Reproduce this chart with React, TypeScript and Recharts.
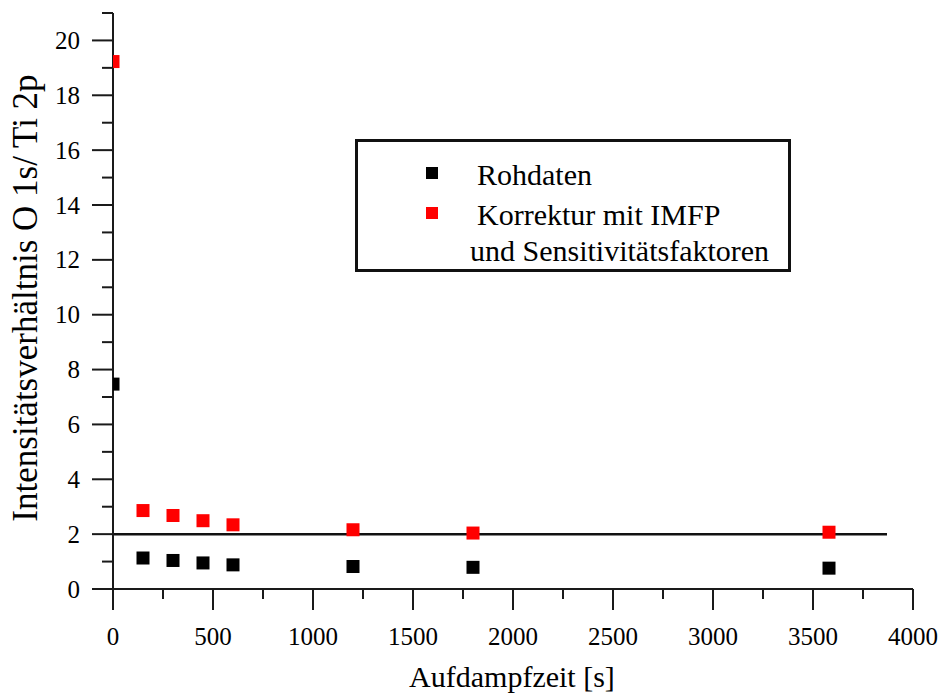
import React from 'react';
import { ScatterChart, Scatter, XAxis, YAxis, ReferenceLine, Legend } from 'recharts';

const times = [0, 150, 300, 450, 600, 1200, 1800, 3580];
const rohdaten = [7.47, 1.13, 1.04, 0.95, 0.88, 0.82, 0.79, 0.76];
const korrektur = [19.23, 2.86, 2.68, 2.49, 2.34, 2.16, 2.04, 2.07];
const seriesNames = ['Rohdaten', 'Korrektur mit IMFP\nund Sensitivitätsfaktoren'];

const xTicks = [0, 250, 500, 750, 1000, 1250, 1500, 1750, 2000, 2250, 2500, 2750, 3000, 3250, 3500, 3750, 4000];
const xLabels = [0, 500, 1000, 1500, 2000, 2500, 3000, 3500, 4000];
const yTicks = [0, 1, 2, 3, 4, 5, 6, 7, 8, 9, 10, 11, 12, 13, 14, 15, 16, 17, 18, 19, 20, 21];
const yLabels = [0, 2, 4, 6, 8, 10, 12, 14, 16, 18, 20];

const rohData = times.map((x, i) => ({ x, y: rohdaten[i] }));
const korrData = times.map((x, i) => ({ x, y: korrektur[i] }));

const FONT = "'Liberation Serif', 'DejaVu Serif', serif";
const AXIS = '#1a1a1a';
const txt = (size: number) => ({ fontFamily: FONT, fontSize: size });

const XTick = ({ x, y, payload }: any) => {
  const major = xLabels.includes(payload.value);
  return (
    <g>
      <line x1={x} y1={y} x2={x} y2={y + (major ? 21 : 10)} stroke={AXIS} strokeWidth={2} />
      {major && (
        <text x={x} y={y + 56} textAnchor="middle" style={txt(25)} fill="#000">
          {payload.value}
        </text>
      )}
    </g>
  );
};

const YTick = ({ x, y, payload }: any) => {
  const major = yLabels.includes(payload.value);
  return (
    <g>
      <line x1={x} y1={y} x2={x - (major ? 21 : 11)} y2={y} stroke={AXIS} strokeWidth={2} />
      {major && (
        <text x={x - 33} y={y + 8.5} textAnchor="end" style={txt(25)} fill="#000">
          {payload.value}
        </text>
      )}
    </g>
  );
};

const square = (color: string) => (props: any) => (
  <rect x={props.cx - 6.5} y={props.cy - 6.5} width={13} height={13} fill={color} />
);

const renderLegend = ({ payload }: any) => {
  const items = seriesNames
    .map((n) => (payload || []).find((p: any) => p.value === n))
    .filter(Boolean);
  return (
    <svg width={436} height={133} style={{ display: 'block' }}>
      <rect x={1.5} y={1.5} width={433} height={130} fill="#fff" stroke="#111" strokeWidth={3} />
      {items.map((entry: any, i: number) => {
        const lines = String(entry.value).split('\n');
        const base = 46 + i * 40;
        return (
          <g key={i}>
            <rect x={71} y={base - 18} width={12} height={12} fill={entry.color} />
            {lines.map((ln, j) => (
              <text key={j} x={j === 0 ? 122 : 115} y={base + j * 36} style={txt(30)} fill="#000">
                {ln}
              </text>
            ))}
          </g>
        );
      })}
    </svg>
  );
};

export default function App() {
  return (
    <div style={{ position: 'absolute', left: 0, top: 0, background: '#fff' }}>
      <ScatterChart width={946} height={693} margin={{ top: 13, right: 33, bottom: 0, left: 0 }}>
        <XAxis
          type="number"
          dataKey="x"
          domain={[0, 4000]}
          ticks={xTicks}
          interval={0}
          allowDataOverflow
          height={104}
          tickSize={0}
          tickMargin={0}
          tick={<XTick />}
          stroke={AXIS}
          strokeWidth={2}
          label={{
            content: () => (
              <text x={512} y={687} textAnchor="middle" style={txt(30)} fill="#000">
                Aufdampfzeit [s]
              </text>
            ),
          }}
        />
        <YAxis
          type="number"
          dataKey="y"
          domain={[0, 21]}
          ticks={yTicks}
          interval={0}
          width={113}
          tickSize={0}
          tickMargin={0}
          tick={<YTick />}
          stroke={AXIS}
          strokeWidth={2}
          label={{
            content: () => (
              <text
                x={37}
                y={298}
                transform="rotate(-90 37 298)"
                textAnchor="middle"
                style={txt(35)}
                fill="#000"
              >
                Intensitätsverhältnis O 1s/ Ti 2p
              </text>
            ),
          }}
        />
        <ReferenceLine
          segment={[{ x: 0, y: 2 }, { x: 3870, y: 2 }]}
          stroke="#111"
          strokeWidth={2.5}
        />
        <Scatter name={seriesNames[0]} data={rohData} fill="#000000" shape={square('#000000')} isAnimationActive={false} />
        <Scatter
          name={seriesNames[1]}
          data={korrData}
          fill="#ff0000"
          shape={square('#ff0000')}
          isAnimationActive={false}
        />
        <Legend
          layout="vertical"
          align="center"
          verticalAlign="middle"
          content={renderLegend}
          wrapperStyle={{ position: 'absolute', left: 355, top: 139, width: 436, height: 133 }}
        />
      </ScatterChart>
    </div>
  );
}
